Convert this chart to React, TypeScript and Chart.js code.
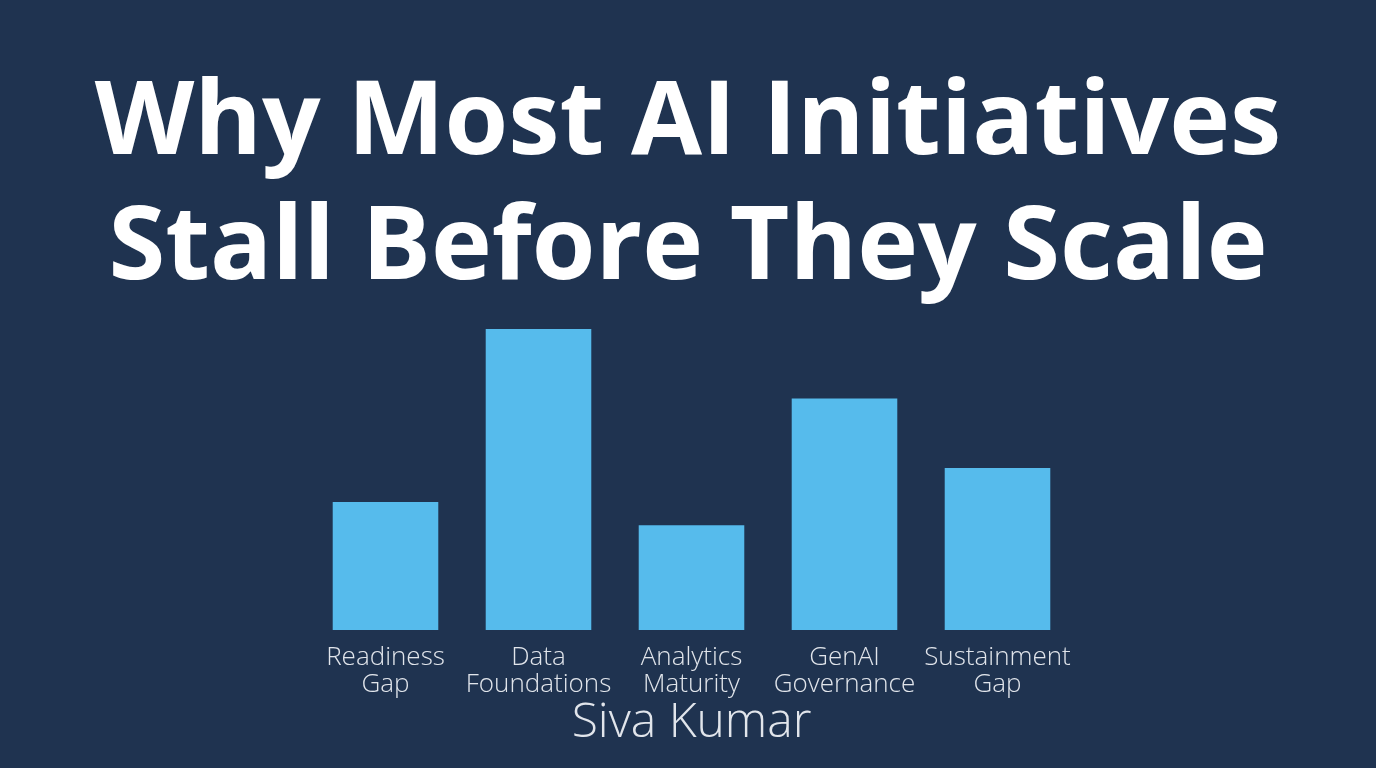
import React, { useEffect, useRef } from "react";
import { Chart, registerables } from "chart.js";

Chart.register(...registerables);

const categories: string[][] = [
  ["Readiness", "Gap"],
  ["Data", "Foundations"],
  ["Analytics", "Maturity"],
  ["GenAI", "Governance"],
  ["Sustainment", "Gap"],
];
const values: number[] = [42.5, 100, 34.8, 76.9, 53.8];
const titleLines: string[] = ["Why Most AI Initiatives", "Stall Before They Scale"];
const author = "Siva Kumar";

const BG = "#1f3350";
const BAR = "#56bbec";
const LABEL = "#e1e5eb";

export default function App() {
  const ref = useRef<HTMLCanvasElement | null>(null);
  useEffect(() => {
    document.body.style.margin = "0";
    document.body.style.background = BG;
    const chart = new Chart(ref.current!, {
      type: "bar",
      data: {
        labels: categories,
        datasets: [
          {
            data: values,
            backgroundColor: BAR,
            borderWidth: 0,
            categoryPercentage: 1,
            barPercentage: 0.69,
          },
        ],
      },
      options: {
        animation: false,
        responsive: false,
        layout: { padding: { left: 0, right: 0, top: 0, bottom: 37 } },
        plugins: {
          legend: { display: false },
          tooltip: { enabled: false },
          title: {
            display: true,
            text: titleLines,
            color: "#ffffff",
            font: { family: "Open Sans", size: 103, weight: "bold", lineHeight: 1.214 },
            padding: { top: 62, bottom: 17 },
          },
        },
        scales: {
          x: {
            grid: { display: false, drawTicks: false },
            border: { display: false },
            ticks: {
              color: LABEL,
              padding: 14,
              maxRotation: 0,
              autoSkip: false,
              font: { family: "Open Sans", size: 26, weight: 300, lineHeight: 1.04 },
            },
            title: {
              display: true,
              text: author,
              color: LABEL,
              padding: { top: 3, bottom: 0 },
              font: { family: "Open Sans", size: 48, weight: 300, lineHeight: 0.333 },
            },
          },
          y: {
            position: "left",
            min: 0,
            max: 100,
            grid: { display: false, drawTicks: false },
            border: { display: false },
            ticks: { display: false },
            afterFit: (s: any) => { s.width = 309; },
          },
          y2: {
            position: "right",
            min: 0,
            max: 100,
            grid: { display: false, drawTicks: false },
            border: { display: false },
            ticks: { display: false },
            afterFit: (s: any) => { s.width = 302; },
          },
        },
      },
    });
    return () => chart.destroy();
  }, []);
  return (
    <div style={{ position: "fixed", inset: 0, background: BG }}>
      <canvas ref={ref} width={1376} height={768} style={{ display: "block" }} />
    </div>
  );
}
